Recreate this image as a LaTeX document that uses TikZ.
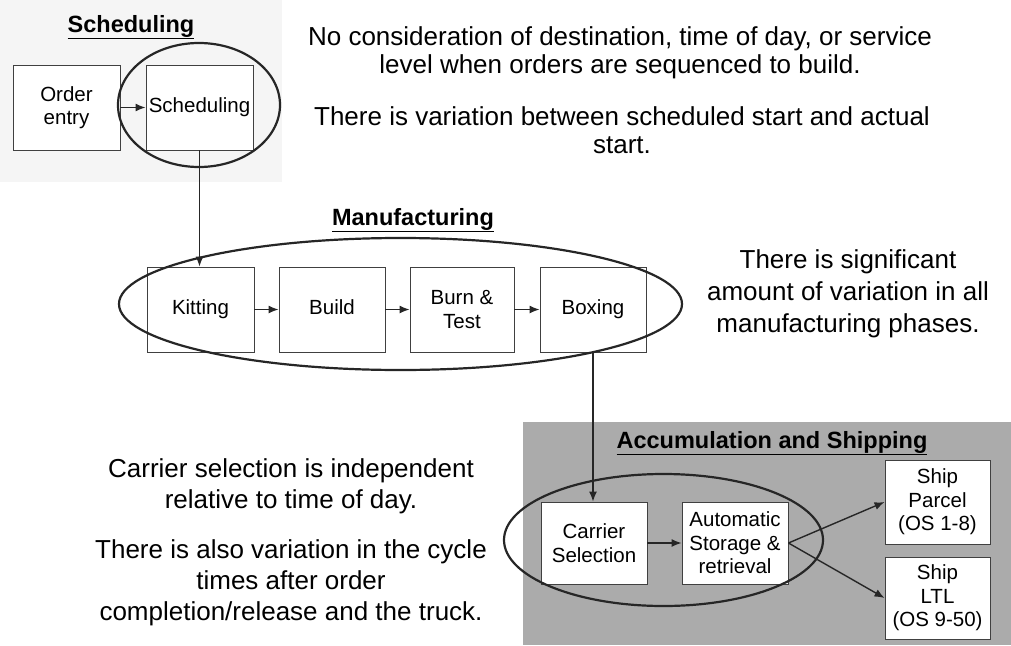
\documentclass[tikz,border=0pt]{standalone}
\usepackage{fontspec}
\setmainfont{Liberation Sans}
\usetikzlibrary{arrows.meta}
\begin{document}
\begin{tikzpicture}[x=1pt,y=-1pt,
  stagebox/.style={draw=black!75,line width=0.9pt,fill=white,minimum height=85pt,
    align=center,inner sep=1pt,font=\fontsize{20.5}{23.5}\selectfont},
  oneline/.style={text height=15pt,text depth=4.5pt},
  oval/.style={line width=2.2pt,black!85},
  flow/.style={draw=black!85,line width=1.4pt,-{Latex[length=10pt,width=8pt]}},
  heading/.style={font=\fontsize{23.5}{26}\selectfont\bfseries},
  note/.style={align=center,anchor=north,inner sep=0pt,font=\fontsize{26}{28}\selectfont}]
\useasboundingbox (0,0) rectangle (1011,645);
% shaded backgrounds of the scheduling and shipping areas
\fill[black!4] (0,0) rectangle (282,182);
\fill[black!33] (523,422) rectangle (1011,645);

% scheduling
\node[heading] (tsch) at (131,27) {\underline{Scheduling}};
\node[stagebox,minimum width=107pt] (order) at (66.5,107.5) {Order\\entry};
\node[stagebox,oneline,minimum width=107pt] (sched) at (199.5,107.5) {Scheduling};
\draw[oval] (199,105) ellipse [x radius=81pt,y radius=62pt];

% manufacturing
\node[heading] (tman) at (413,220) {\underline{Manufacturing}};
\node[stagebox,oneline,minimum width=107pt] (kit) at (200.5,309.5) {Kitting};
\node[stagebox,oneline,minimum width=106pt] (build) at (332,309.5) {Build};
\node[stagebox,minimum width=104pt] (burn) at (462,309.5) {Burn \&\\Test};
\node[stagebox,oneline,minimum width=106pt] (boxing) at (593,309.5) {Boxing};
\draw[oval] (400.5,304) ellipse [x radius=281.5pt,y radius=66pt];

% accumulation and shipping
\node[heading] (tacc) at (772,443) {\underline{Accumulation and Shipping}};
\node[stagebox,minimum width=106pt,minimum height=82pt] (carrier) at (594,543) {Carrier\\Selection};
\node[stagebox,minimum width=106pt,minimum height=82pt] (auto) at (735,543) {Automatic\\Storage \&\\retrieval};
\node[stagebox,minimum width=105pt,minimum height=84pt] (parcel) at (937.5,502) {Ship\\Parcel\\(OS 1-8)};
\node[stagebox,minimum width=105pt,minimum height=82pt] (ltl) at (937.5,598) {Ship\\LTL\\(OS 9-50)};
\draw[oval] (663.5,540) ellipse [x radius=159.5pt,y radius=66pt];

% connectors
\draw[flow] (order) -- (sched);
\draw[flow] (sched.south) -- (sched.south |- kit.north);
\draw[flow] (kit) -- (build);
\draw[flow] (build) -- (burn);
\draw[flow] (burn) -- (boxing);
\draw[flow] (boxing.south) -- (boxing.south |- carrier.north);
\draw[flow] (carrier) -- (auto);
\draw[flow] (auto.east) -- (parcel.west);
\draw[flow] (auto.east) -- (ltl.west);

% comments
\node[note] (n1) at (620,26) {No consideration of destination, time of day, or service\\level when orders are sequenced to build.};
\node[note] (n2) at (622,106) {There is variation between scheduled start and actual\\start.};
\node[note,font=\fontsize{26}{32}\selectfont] (n3) at (848,249) {There is significant\\amount of variation in all\\manufacturing phases.};
\node[note,font=\fontsize{26}{31}\selectfont] (n4) at (291,458) {Carrier selection is independent\\relative to time of day.};
\node[note,font=\fontsize{26}{31}\selectfont] (n5) at (291,539) {There is also variation in the cycle\\times after order\\completion/release and the truck.};
\end{tikzpicture}
\end{document}
